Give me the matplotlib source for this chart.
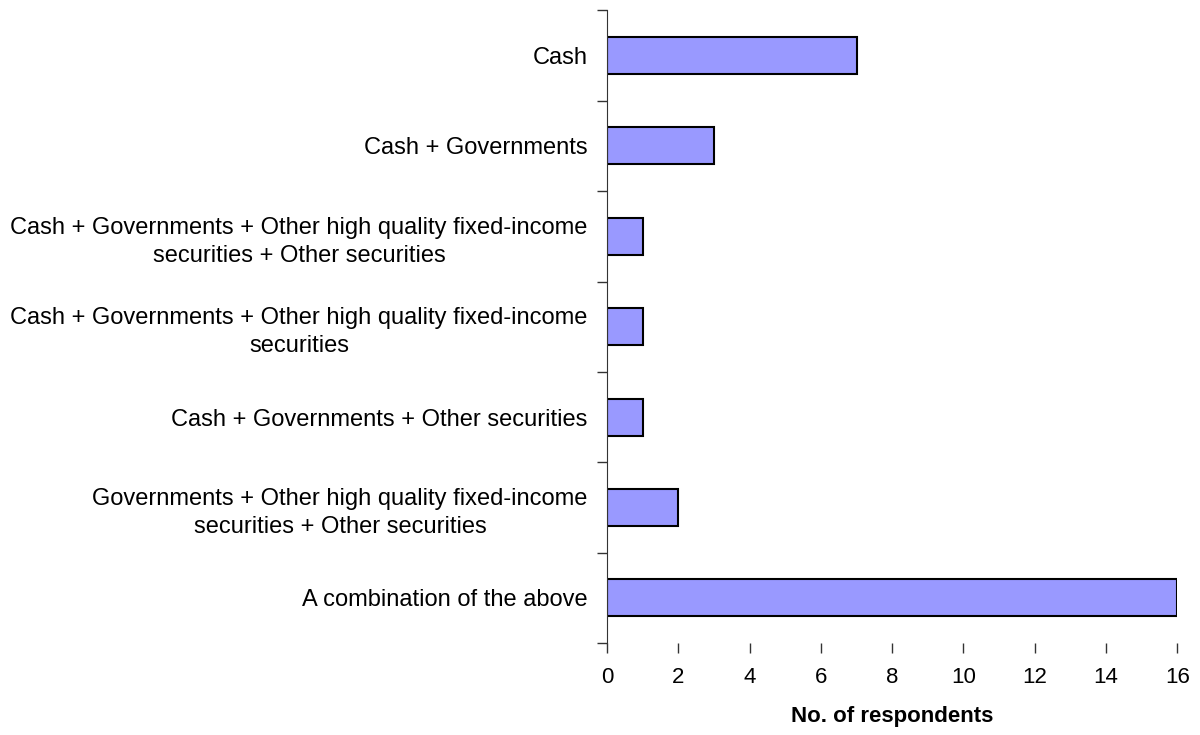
import numpy as np
import matplotlib.pyplot as plt
from matplotlib.ticker import FixedLocator, NullFormatter

plt.rcParams['font.family'] = ['Liberation Sans', 'DejaVu Sans']

categories = [
    "Cash",
    "Cash + Governments",
    "Cash + Governments + Other high quality fixed-income\nsecurities + Other securities",
    "Cash + Governments + Other high quality fixed-income\nsecurities",
    "Cash + Governments + Other securities",
    "Governments + Other high quality fixed-income\nsecurities + Other securities",
    "A combination of the above",
]
respondents = [7, 3, 1, 1, 1, 2, 16]
x_ticks = [0, 2, 4, 6, 8, 10, 12, 14, 16]

fig = plt.figure(figsize=(12, 7.35), dpi=100)
ax = fig.add_axes([0.506, 0.125, 0.475, 0.861])

n = len(categories)
pos = np.arange(n)[::-1]
ax.barh(pos, respondents, height=0.41, color="#9999FF", edgecolor="black", linewidth=1.5)

ax.set_xlim(0, 16)
ax.set_ylim(-0.5, n - 0.5)

# category labels, boundaries marked with minor ticks
ax.set_yticks(pos)
ax.set_yticklabels(categories, fontsize=17, multialignment="center", linespacing=1.35)
ax.tick_params(axis="y", which="major", length=0, pad=14)
ax.yaxis.set_minor_locator(FixedLocator(np.arange(-0.5, n, 1.0)))
ax.yaxis.set_minor_formatter(NullFormatter())
ax.tick_params(axis="y", which="minor", length=7, width=1, color="#333333")

ax.set_xticks(x_ticks)
ax.tick_params(axis="x", length=7, width=1, labelsize=16, pad=10, color="#333333")
ax.set_xlabel("No. of respondents", fontsize=16, fontweight="bold", labelpad=13)

for side in ["top", "right", "bottom"]:
    ax.spines[side].set_visible(False)
ax.spines["left"].set_color("#333333")

fig.savefig("out.png", dpi=100)
